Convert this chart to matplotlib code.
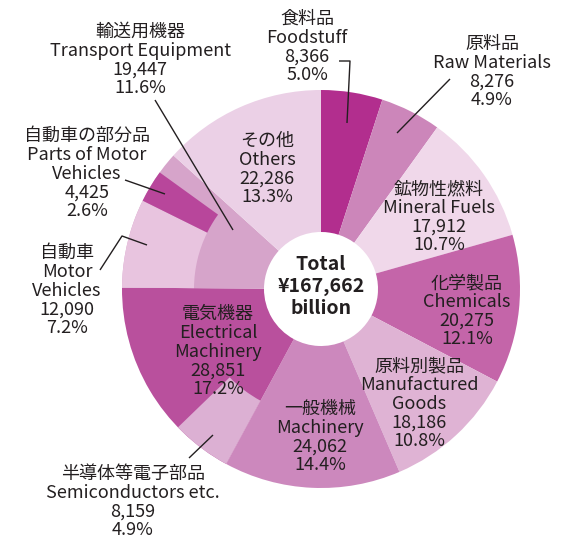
import numpy as np
import matplotlib
matplotlib.use('Agg')
import matplotlib.pyplot as plt

plt.rcParams['font.family'] = ['Noto Sans CJK JP', 'DejaVu Sans']

# ----------------------------------------------------------------------
#   Data (billion yen)
# ----------------------------------------------------------------------

cats_jp = ['食料品', '原料品', '鉱物性燃料', '化学製品', '原料別製品',
           '一般機械', '電気機器', '輸送用機器', 'その他']
cats_en = ['Foodstuff', 'Raw Materials', 'Mineral Fuels', 'Chemicals',
           'Manufactured\nGoods', 'Machinery', 'Electrical\nMachinery',
           'Transport Equipment', 'Others']
values = [8366, 8276, 17912, 20275, 18186, 24062, 28851, 19447, 22286]
shares = ['5.0', '4.9', '10.7', '12.1', '10.8', '14.4', '17.2', '11.6', '13.3']

# sub items drawn in the outer ring of their parent
sub_jp = ['半導体等電子部品', '自動車', '自動車の部分品']
sub_en = ['Semiconductors etc.', 'Motor\nVehicles', 'Parts of Motor\nVehicles']
sub_values = [8159, 12090, 4425]
sub_shares = ['4.9', '7.2', '2.6']
sub_parent = [6, 7, 7]

total = '¥167,662'

# ----------------------------------------------------------------------
#   Style / layout (pixel coords, y from top)
# ----------------------------------------------------------------------

W, H = 576, 540
cx, cy = 321, 289
R, R_mid, R_hole = 199, 127, 57

colors = ['#b22e8e', '#cc86ba', '#f0d8ea', '#c465a9', '#dfb3d4',
          '#cc88bd', '#b9509d', '#d6a4ca', '#ebd0e6']
sub_colors = ['#dcb0d3', '#e8c4df', '#b8469b']

txt_c = '#231f20'
fs = 13
dy = 18.8

# x centre, y centre of first line
cat_pos = [(307, 18), (492, 43), (439, 188), (467, 282), (419, 365),
           (320, 408), (218, 313), (140, 31), (267, 140)]
sub_pos = [(133, 473), (67, 252), (87, 135)]

leaders = [
    [(339, 61), (350, 61), (347, 123)],
    [(450, 79), (397, 133)],
    [(155, 100), (233, 230)],
    [(125, 180), (165, 194)],
    [(100, 270), (122, 236), (147, 245)],
    [(189, 458), (213, 435)],
]


def Y(y):
    return H - y


def label(ax, x, y0, jp, en, val, pct):
    lines = [jp] + en.split('\n') + ['{:,}'.format(val), pct + '%']
    for i, s in enumerate(lines):
        ax.text(x, Y(y0 + i * dy + 6), s, ha='center', va='baseline',
                fontsize=fs, color=txt_c)


def main():

    fig = plt.figure(figsize=(W / 100., H / 100.), dpi=100)
    ax = fig.add_axes([0, 0, 1, 1])

    # main ring
    ax.pie(values, radius=R, center=(cx, Y(cy)), startangle=90,
           counterclock=False, colors=colors,
           wedgeprops=dict(width=R - R_hole, linewidth=0))

    # outer ring with the sub items
    outer_vals = []
    outer_cols = []
    done = 0
    for k, p in enumerate(sub_parent):
        before = sum(values[:p]) + sum(sub_values[j] for j in range(k) if sub_parent[j] == p)
        if before > done:
            outer_vals.append(before - done)
            outer_cols.append('none')
        outer_vals.append(sub_values[k])
        outer_cols.append(sub_colors[k])
        done = before + sub_values[k]
    outer_vals.append(sum(values) - done)
    outer_cols.append('none')

    ax.pie(outer_vals, radius=R, center=(cx, Y(cy)), startangle=90,
           counterclock=False, colors=outer_cols,
           wedgeprops=dict(width=R - R_mid, linewidth=0))

    # labels
    for i in range(len(values)):
        label(ax, cat_pos[i][0], cat_pos[i][1], cats_jp[i], cats_en[i],
              values[i], shares[i])
    for k in range(len(sub_values)):
        label(ax, sub_pos[k][0], sub_pos[k][1], sub_jp[k], sub_en[k],
              sub_values[k], sub_shares[k])

    for pts in leaders:
        xs = [p[0] for p in pts]
        ys = [Y(p[1]) for p in pts]
        ax.plot(xs, ys, color=txt_c, lw=1.0, solid_capstyle='butt')

    # centre
    for i, s in enumerate(['Total', total, 'billion']):
        ax.text(cx, Y(263 + i * 22.5 + 6.5), s, ha='center', va='baseline',
                fontsize=14, fontweight='bold', color=txt_c)

    ax.set_xlim(0, W)
    ax.set_ylim(0, H)
    ax.set_aspect('equal')
    ax.axis('off')

    plt.savefig('out.png', dpi=100, facecolor='white')
    plt.close()


if __name__ == '__main__':
    main()
